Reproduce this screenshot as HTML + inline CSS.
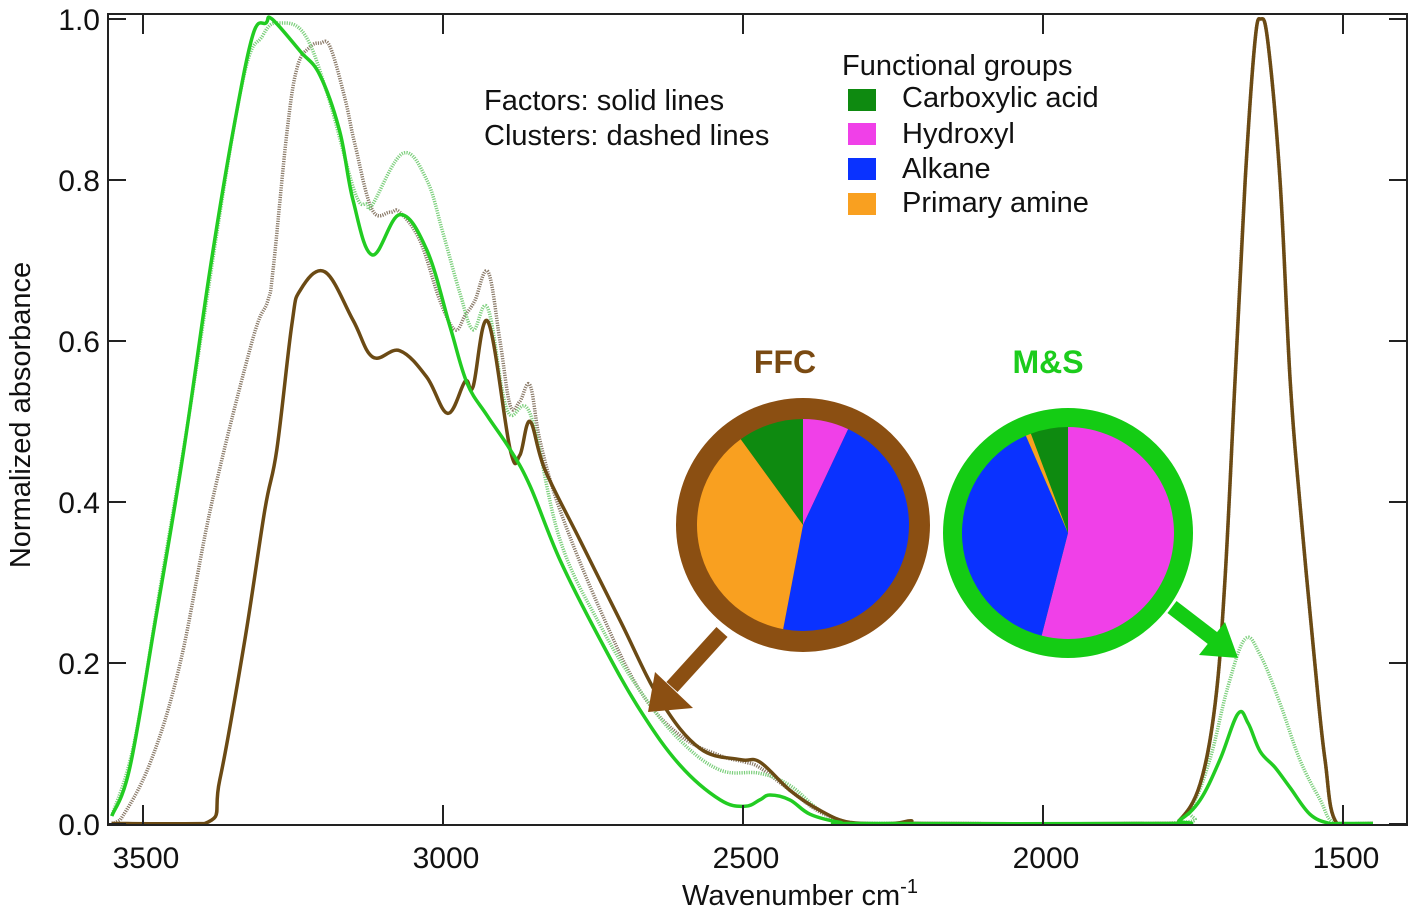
<!DOCTYPE html>
<html><head><meta charset="utf-8"><style>
body{margin:0;background:#fff}
svg{display:block;font-family:"Liberation Sans",Arial,sans-serif}
</style></head><body>
<svg id="chart" width="1416" height="912" viewBox="0 0 1416 912">
<g id="plot"></g>
</svg>
<script>
const xTicks=[3500,3000,2500,2000,1500];
const yTicks=[0.0,0.2,0.4,0.6,0.8,1.0];
const yTickLabels=["0.0","0.2","0.4","0.6","0.8","1.0"];
const greenSolidW=[3552,3522,3480,3433,3388,3350,3317,3295,3285,3238,3205,3172,3150,3118,3072,3027,2988,2960,2927,2888,2855,2805,2738,2672,2605,2538,2497,2472,2455,2422,2388,2338,2300,1800,1772,1738,1705,1675,1658,1638,1613,1588,1555,1522,1500,1450];
const greenSolidV=[0.01,0.07,0.25,0.46,0.69,0.86,0.98,0.995,1.0,0.96,0.93,0.86,0.775,0.707,0.757,0.713,0.617,0.548,0.508,0.465,0.42,0.328,0.229,0.142,0.073,0.03,0.022,0.03,0.036,0.03,0.012,0.002,0,0,0.005,0.03,0.08,0.137,0.125,0.09,0.07,0.045,0.012,0,0,0];
const brownSolidW=[3552,3397,3372,3330,3297,3277,3252,3238,3197,3150,3117,3072,3027,2992,2963,2950,2925,2888,2872,2855,2830,2772,2705,2638,2572,2505,2472,2422,2372,2322,2250,2220,2190,1800,1772,1738,1713,1697,1680,1663,1647,1637,1625,1605,1588,1572,1547,1530,1510,1450];
const brownSolidV=[0,0,0.055,0.23,0.39,0.465,0.62,0.663,0.686,0.626,0.58,0.588,0.555,0.51,0.55,0.543,0.624,0.465,0.458,0.50,0.44,0.353,0.253,0.154,0.094,0.08,0.077,0.042,0.017,0.002,0,0.004,0,0,0.005,0.05,0.15,0.3,0.55,0.8,0.97,1.0,0.97,0.8,0.55,0.4,0.2,0.08,0,0];
const greenDotW=[3552,3515,3470,3425,3340,3300,3270,3230,3192,3147,3127,3118,3067,3027,3000,2972,2950,2925,2893,2855,2805,2738,2672,2605,2538,2472,2422,2372,2322,2290,1800,1755,1722,1692,1663,1638,1605,1572,1538,1513,1450];
const greenDotV=[0.01,0.1,0.3,0.5,0.9,0.98,0.995,0.98,0.905,0.785,0.77,0.769,0.833,0.8,0.734,0.66,0.614,0.64,0.514,0.51,0.353,0.247,0.166,0.104,0.067,0.063,0.048,0.017,0.001,0,0,0.02,0.08,0.17,0.23,0.21,0.15,0.08,0.03,0,0];
const brownDotW=[3552,3538,3488,3438,3385,3318,3292,3283,3260,3243,3222,3205,3188,3163,3147,3118,3088,3072,3038,3005,2980,2963,2947,2925,2905,2888,2872,2855,2838,2805,2738,2672,2605,2538,2497,2472,2422,2372,2322,2290,1800,1772,1738,1713,1697,1680,1663,1647,1637,1625,1605,1588,1572,1547,1530,1510,1450];
const brownDotV=[0,0.005,0.076,0.2,0.4,0.6,0.65,0.69,0.86,0.94,0.965,0.97,0.965,0.9,0.845,0.763,0.76,0.76,0.724,0.65,0.614,0.632,0.65,0.686,0.6,0.52,0.525,0.545,0.475,0.39,0.266,0.166,0.11,0.085,0.077,0.07,0.042,0.015,0.001,0,0,0.005,0.05,0.15,0.3,0.55,0.8,0.97,1.0,0.97,0.8,0.55,0.4,0.2,0.08,0,0];
const pieGroups=["Carboxylic acid","Hydroxyl","Alkane","Primary amine"];
const pieColors=["#0e8a10","#f040e8","#0a32ff","#f9a020"];
const ffcValues=[10,7,46,37];
const msValues=[5.7,54,39.5,0.8];

const NS="http://www.w3.org/2000/svg";
const svg=document.getElementById('chart');
const L=108,R=1407,T=14,B=825;
function xS(w){return 143+(3500-w)*0.6;}
function yS(v){return 824-v*805;}
function mk(tag,attrs,parent){const e=document.createElementNS(NS,tag);for(const k in attrs)e.setAttribute(k,attrs[k]);(parent||svg).appendChild(e);return e;}
function smooth(pts){let d="M"+pts[0][0].toFixed(1)+","+pts[0][1].toFixed(1);
 for(let i=0;i<pts.length-1;i++){const p0=pts[Math.max(0,i-1)],p1=pts[i],p2=pts[i+1],p3=pts[Math.min(pts.length-1,i+2)];
  const t=0.18;const c1=[p1[0]+(p2[0]-p0[0])*t,p1[1]+(p2[1]-p0[1])*t],c2=[p2[0]-(p3[0]-p1[0])*t,p2[1]-(p3[1]-p1[1])*t];
  c1[1]=Math.min(c1[1],B-1);c2[1]=Math.min(c2[1],B-1);
  d+=" C"+c1[0].toFixed(1)+","+c1[1].toFixed(1)+" "+c2[0].toFixed(1)+","+c2[1].toFixed(1)+" "+p2[0].toFixed(1)+","+p2[1].toFixed(1);}
 return d;}
function series(W,V,stroke,width,dash,name){const pts=W.map((w,i)=>[xS(w),Math.min(yS(V[i]),B-1.5)]);
 const p=mk('path',{d:smooth(pts),fill:'none',stroke:stroke,'stroke-width':width,'stroke-dasharray':dash||'none','stroke-linejoin':'round'});
 
 }
series(brownDotW,brownDotV,'#8a7a68',3.5,'1.2 1.2','ffc-cluster-line');
series(greenDotW,greenDotV,'#7ccf7c',3.5,'1.2 1.2','ms-cluster-line');
series(brownSolidW,brownSolidV,'#6b4a14',3.5,null,'ffc-factor-line');
series(greenSolidW,greenSolidV,'#22cc22',3.5,null,'ms-factor-line');

const fr=mk('rect',{x:L,y:T,width:R-L,height:B-T,fill:'none',stroke:'#222','stroke-width':2});


xTicks.forEach(w=>{const x=xS(w);
 const a=mk('line',{x1:x,x2:x,y1:B,y2:B-20,stroke:'#222','stroke-width':2});
 const b=mk('line',{x1:x,x2:x,y1:T,y2:T+20,stroke:'#222','stroke-width':2});
 const t=mk('text',{x:x+3,y:868,'font-size':30,'text-anchor':'middle',fill:'#111'});t.textContent=w;});
yTicks.forEach((v,i)=>{const y=yS(v);
 const a=mk('line',{x1:L,x2:L+18,y1:y,y2:y,stroke:'#222','stroke-width':2});
 const b=mk('line',{x1:R,x2:R-18,y1:y,y2:y,stroke:'#222','stroke-width':2});
 const t=mk('text',{x:100,y:y+11,'font-size':30,'text-anchor':'end',fill:'#111'});t.textContent=yTickLabels[i];});

function pie(cx,cy,rOut,rIn,ring,vals,name){
 const c=mk('circle',{cx:cx,cy:cy,r:rOut,fill:ring});
 const tot=vals.reduce((a,b)=>a+b,0);let a0=-(vals[0]/tot)*2*Math.PI;
 vals.forEach((v,i)=>{const a1=a0+v/tot*2*Math.PI;
  const x0=cx+rIn*Math.sin(a0),y0=cy-rIn*Math.cos(a0),x1=cx+rIn*Math.sin(a1),y1=cy-rIn*Math.cos(a1);
  const s=mk('path',{d:`M${cx},${cy} L${x0},${y0} A${rIn},${rIn} 0 ${(a1-a0)>Math.PI?1:0} 1 ${x1},${y1} Z`,fill:pieColors[i]});
  a0=a1;});}
pie(803,525,127,106,'#8b4f12',ffcValues,'ffc-pie');
pie(1068,533,125,106,'#14cc14',msValues,'ms-pie');
</script>
<svg style="position:absolute;left:0;top:0" width="1416" height="912">
<text x="785" y="373" font-size="32" font-weight="bold" fill="#7a4a12" text-anchor="middle" font-family="Liberation Sans, sans-serif">FFC</text>
<text x="1048" y="373" font-size="32" font-weight="bold" fill="#1ccc1c" text-anchor="middle" font-family="Liberation Sans, sans-serif">M&amp;S</text>
<g><line x1="722" y1="632" x2="672" y2="687" stroke="#8b4f12" stroke-width="15"/><polygon points="648,712 693,708 655,672" fill="#8b4f12"/></g>
<g><line x1="1172" y1="607" x2="1215" y2="640" stroke="#14cc14" stroke-width="15"/><polygon points="1238,658 1199,655 1225,622" fill="#14cc14"/></g>
<g font-family="Liberation Sans, sans-serif" font-size="29" fill="#111">
<text x="484" y="110">Factors: solid lines</text>
<text x="484" y="145">Clusters: dashed lines</text>
<text x="842" y="75">Functional groups</text>
<rect x="848" y="89" width="28" height="22" fill="#0e8a10"/>
<text x="902" y="107">Carboxylic acid</text>
<rect x="848" y="123" width="28" height="22" fill="#f040e8"/>
<text x="902" y="143">Hydroxyl</text>
<rect x="848" y="158" width="28" height="22" fill="#0a32ff"/>
<text x="902" y="178">Alkane</text>
<rect x="848" y="193" width="28" height="22" fill="#f9a020"/>
<text x="902" y="212">Primary amine</text>
<text x="800" y="905" text-anchor="middle">Wavenumber cm<tspan dy="-12" font-size="20">-1</tspan></text>
<text transform="translate(30,415) rotate(-90)" text-anchor="middle">Normalized absorbance</text>
</g>
</svg>
</body></html>
